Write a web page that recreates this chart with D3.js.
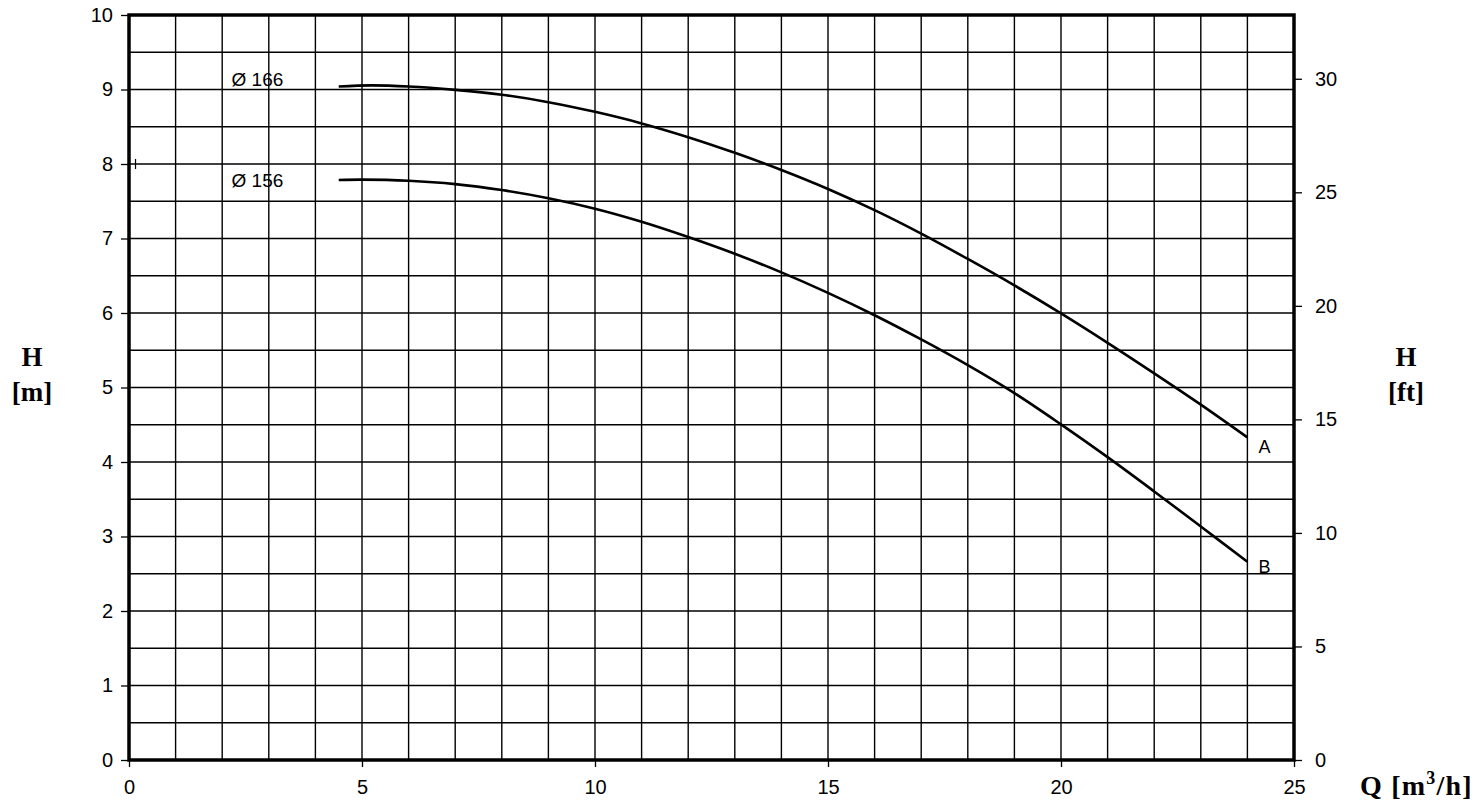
<!DOCTYPE html>
<html><head><meta charset="utf-8">
<script src="https://cdn.jsdelivr.net/npm/d3@7"></script>
<style>body{margin:0;background:#fff}svg{display:block}</style>
</head><body>
<svg id="c" width="1484" height="804"></svg>
<script>
const qA = [4.5, 5.2, 6, 7, 8, 9, 10, 11, 12, 13, 14, 15, 16, 17, 18, 19, 20, 21, 22, 23, 24];
const hA = [9.04, 9.055, 9.04, 8.995, 8.93, 8.83, 8.70, 8.545, 8.36, 8.15, 7.92, 7.665, 7.38, 7.065, 6.725, 6.37, 5.995, 5.60, 5.19, 4.77, 4.33];
const qB = [4.5, 5, 6, 7, 8, 9, 10, 11, 12, 13, 14, 15, 16, 17, 18, 19, 20, 21, 22, 23, 24];
const hB = [7.785, 7.79, 7.775, 7.73, 7.65, 7.54, 7.40, 7.225, 7.02, 6.795, 6.545, 6.27, 5.97, 5.645, 5.30, 4.925, 4.505, 4.065, 3.605, 3.135, 2.66];
const curveNames = ["A", "B"];
const diamLabels = ["Ø 166", "Ø 156"];
const xTicks = [0, 5, 10, 15, 20, 25];
const yTicks = [0, 1, 2, 3, 4, 5, 6, 7, 8, 9, 10];
const ftTicks = [0, 5, 10, 15, 20, 25, 30];

const svg = d3.select("#c");
const L = 129, R = 1294, T = 15, B = 760;
const x = d3.scaleLinear().domain([0, 25]).range([L, R]);
const y = d3.scaleLinear().domain([0, 10]).range([B, T]);
const yft = d3.scaleLinear().domain([0, 10 / 0.3048]).range([B, T]);

const g = svg.append("g");
g.selectAll(".vg").data(d3.range(1, 25)).join("line")
  .attr("x1", d => x(d)).attr("x2", d => x(d)).attr("y1", T).attr("y2", B)
  .attr("stroke", "#000").attr("stroke-width", 1.4);
g.selectAll(".hg").data(d3.range(0.5, 10, 0.5)).join("line")
  .attr("y1", d => y(d)).attr("y2", d => y(d)).attr("x1", L).attr("x2", R)
  .attr("stroke", "#000").attr("stroke-width", 1.4);

const font = "'Liberation Sans', Arial, sans-serif";
const ax = svg.append("g").attr("transform", `translate(0,${B})`)
  .call(d3.axisBottom(x).tickValues(xTicks).tickSize(7).tickPadding(8).tickFormat(d3.format("d")));
const ay = svg.append("g").attr("transform", `translate(${L},0)`)
  .call(d3.axisLeft(y).tickValues(yTicks).tickSize(8).tickPadding(8).tickFormat(d3.format("d")));
const ar = svg.append("g").attr("transform", `translate(${R},0)`)
  .call(d3.axisRight(yft).tickValues(ftTicks).tickSize(8).tickPadding(13).tickFormat(d3.format("d")));
[ax, ay, ar].forEach(a => {
  a.select(".domain").remove();
  a.selectAll("line").attr("stroke", "#000").attr("stroke-width", 1.3);
  a.selectAll("text").attr("font-family", font).attr("font-size", 20).attr("fill", "#000");
});
ax.selectAll("text").attr("dy", "0.95em");

svg.append("rect").attr("x", L).attr("y", T).attr("width", R - L).attr("height", B - T)
  .attr("fill", "none").attr("stroke", "#000").attr("stroke-width", 3.5);

svg.append("line").attr("x1", x(0.14)).attr("x2", x(0.14)).attr("y1", y(8) - 5).attr("y2", y(8) + 5)
  .attr("stroke", "#000").attr("stroke-width", 1.2);

const line = d3.line().x(d => x(d[0])).y(d => y(d[1])).curve(d3.curveCatmullRom.alpha(0.5));
const series = [d3.zip(qA, hA), d3.zip(qB, hB)];
svg.selectAll(".curve").data(series).join("path")
  .attr("d", line).attr("fill", "none").attr("stroke", "#000").attr("stroke-width", 2.6);

svg.selectAll(".dl").data(series).join("text")
  .attr("x", x(2.2)).attr("y", (d, i) => y(d[0][1]) + (i === 0 ? -6 : 2))
  .attr("font-family", font).attr("font-size", 19).attr("dominant-baseline", "middle")
  .text((d, i) => diamLabels[i]);
svg.selectAll(".cn").data(series).join("text")
  .attr("x", d => x(d[d.length - 1][0]) + 11).attr("y", (d, i) => y(d[d.length - 1][1]) + (i === 0 ? 11 : 6))
  .attr("font-family", font).attr("font-size", 18).attr("dominant-baseline", "middle")
  .text((d, i) => curveNames[i]);

const serif = "'Liberation Serif', 'DejaVu Serif', serif";
function title(cx, lines) {
  lines.forEach((t, i) => {
    svg.append("text").attr("x", cx).attr("y", 366 + i * 35).attr("text-anchor", "middle")
      .attr("font-family", serif).attr("font-weight", "bold").attr("font-size", 27).text(t);
  });
}
title(32, ["H", "[m]"]);
title(1406, ["H", "[ft]"]);
const qt = svg.append("text").attr("x", 1360).attr("y", 795)
  .attr("font-family", serif).attr("font-weight", "bold").attr("font-size", 28)
  .attr("letter-spacing", 1.2);
qt.append("tspan").text("Q [m");
qt.append("tspan").attr("font-size", 18).attr("dy", -11).text("3");
qt.append("tspan").attr("dy", 11).text("/h]");
</script>
</body></html>
